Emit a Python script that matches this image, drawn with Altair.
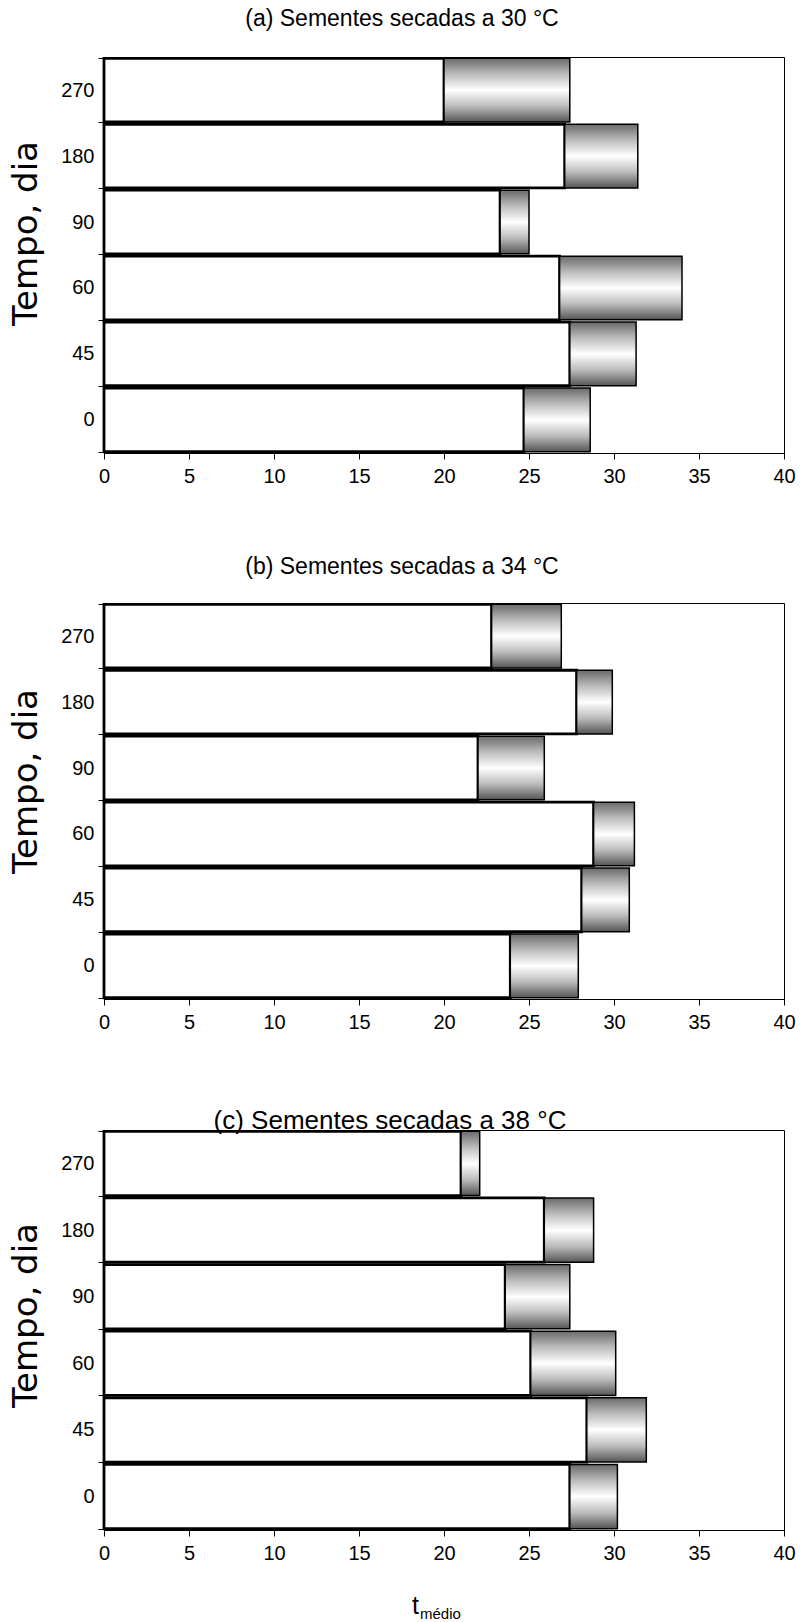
import altair as alt
import pandas as pd

# ---- data ----
dias = ["270", "180", "90", "60", "45", "0"]          # top -> bottom
a_branco = [20.0, 27.1, 23.3, 26.8, 27.4, 24.7]
a_total = [27.4, 31.4, 25.0, 34.0, 31.3, 28.6]
b_branco = [22.8, 27.8, 22.0, 28.8, 28.1, 23.9]
b_total = [26.9, 29.9, 25.9, 31.2, 30.9, 27.9]
c_branco = [21.0, 25.9, 23.6, 25.1, 28.4, 27.4]
c_total = [22.1, 28.8, 27.4, 30.1, 31.9, 30.2]
x_ticks = [0, 5, 10, 15, 20, 25, 30, 35, 40]

titulos = ["(a) Sementes secadas a 30 °C",
           "(b) Sementes secadas a 34 °C",
           "(c) Sementes secadas a 38 °C"]

NARROW = "Liberation Sans Narrow, Arial Narrow, Liberation Sans, Arial, sans-serif"
W = 680

grad = alt.Gradient(
    gradient="linear",
    stops=[alt.GradientStop(color="#6a6a6a", offset=0),
           alt.GradientStop(color="#bcbcbc", offset=0.25),
           alt.GradientStop(color="#ffffff", offset=0.5),
           alt.GradientStop(color="#bcbcbc", offset=0.75),
           alt.GradientStop(color="#555555", offset=1)],
    x1=0, x2=0, y1=0, y2=1)


def panel(branco, total, titulo, H, t_y, t_size, t_x, ytitle_y, top_ext, bottom_ext, xlabel=False):
    df = pd.DataFrame({"dia": dias, "branco": branco, "total": total})
    one = pd.DataFrame({"k": [0]})

    x_axis = alt.Axis(values=x_ticks, title=None, grid=False, tickSize=6,
                      tickColor="black", domainColor="black", labelColor="black",
                      labelFont=NARROW, labelFontSize=20, labelPadding=7,
                      labelFlush=False)
    y_axis = alt.Axis(title="Tempo, dia", titleFont="DejaVu Sans", titleFontSize=34,
                      titleFontWeight="normal", titleColor="black", titleX=-78,
                      titleY=ytitle_y, titleAngle=270, titleAlign="center",
                      titleBaseline="middle", labelFont=NARROW, labelFontSize=20,
                      labelColor="black", labelPadding=4, tickBand="extent",
                      tickSize=6, tickColor="black", domainColor="black",
                      domainWidth=2, grid=False)
    x = alt.X("branco:Q", scale=alt.Scale(domain=[0, 40], nice=False), axis=x_axis)
    y = alt.Y("dia:N", sort=dias, axis=y_axis,
              scale=alt.Scale(paddingInner=0.035, paddingOuter=0.02))

    base = alt.Chart(df)
    white = base.mark_bar(fill="white", stroke="black", strokeWidth=2.8).encode(y=y, x=x)
    grey = base.mark_bar(fill=grad, stroke="black", strokeWidth=1.5).encode(
        y=y, x=x, x2="total:Q")

    title = alt.Chart(one).mark_text(font=NARROW, fontSize=t_size, color="black",
                                     align="center", baseline="middle").encode(
        x=alt.value(t_x), y=alt.value(t_y), text=alt.value(titulo))
    hidden = alt.Chart(one).mark_rule(opacity=0).encode(
        x=alt.value(-103), x2=alt.value(-103),
        y=alt.value(-top_ext), y2=alt.value(H + bottom_ext))

    layers = [white, grey, title, hidden]
    if xlabel:
        t1 = alt.Chart(one).mark_text(font="Liberation Sans", fontSize=25, color="black",
                                      align="left", baseline="alphabetic").encode(
            x=alt.value(308), y=alt.value(484), text=alt.value("t"))
        t2 = alt.Chart(one).mark_text(font="Liberation Sans", fontSize=15, color="black",
                                      align="left", baseline="alphabetic").encode(
            x=alt.value(316), y=alt.value(489), text=alt.value("médio"))
        layers += [t1, t2]
    return alt.layer(*layers).properties(width=W, height=H)


pa = panel(a_branco, a_total, titulos[0], 396, -38, 23, 298, 176, 56, 44)
pb = panel(b_branco, b_total, titulos[1], 396, -36, 23, 298, 178, 104, 44)
pc = panel(c_branco, c_total, titulos[2], 400, -9, 26, 286, 185, 85, 44, xlabel=True)

chart = alt.vconcat(pa, pb, pc, spacing=0).properties(padding=0).configure_view(
    stroke="black", strokeWidth=1)

chart.save("out.html", embed_options={"renderer": "svg", "actions": False})
